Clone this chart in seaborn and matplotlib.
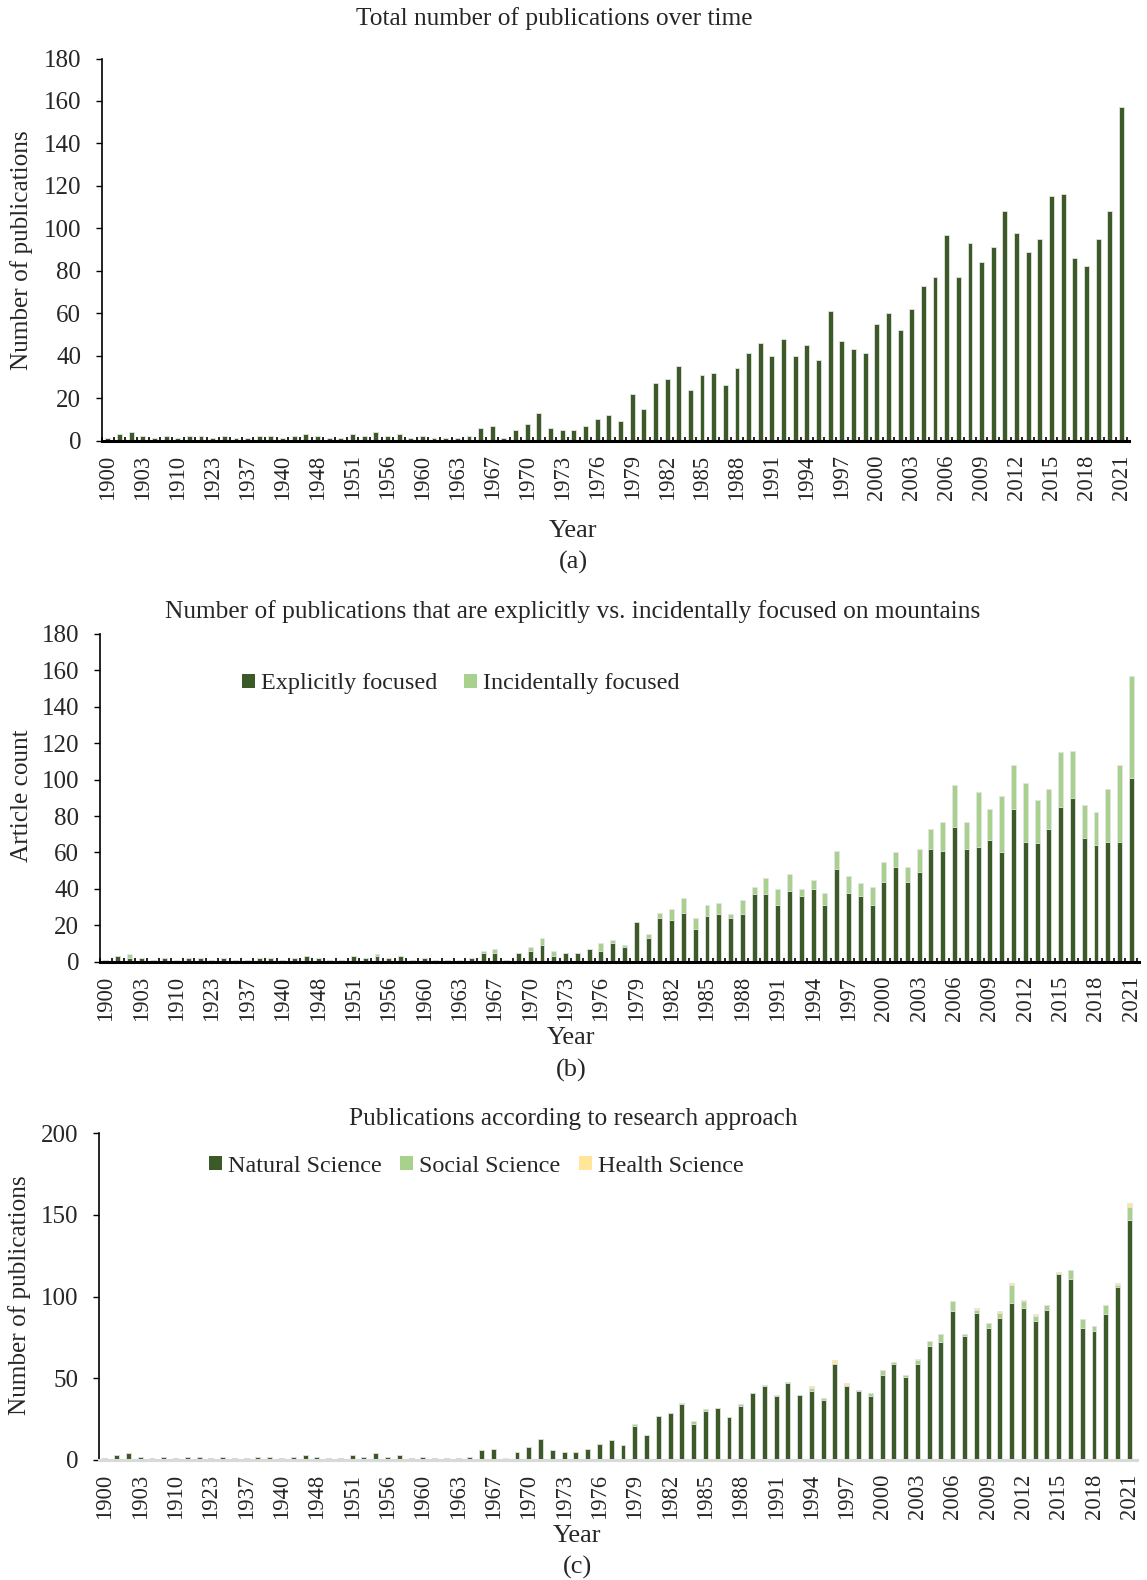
import numpy as np
import matplotlib
matplotlib.use("Agg")
import matplotlib.pyplot as plt
from matplotlib.patches import Patch
import seaborn as sns

sns.set_theme(style="white")
plt.rcParams['font.family'] = ['Liberation Serif', 'DejaVu Serif']

# ---------------- data ----------------
years = ["1900", "1901", "1902", "1903", "1905", "1908", "1910", "1913", "1920", "1923",
         "1926", "1930", "1937", "1938", "1939", "1940", "1943", "1946", "1948", "1949",
         "1950", "1951", "1953", "1955", "1956", "1957", "1959", "1960", "1961", "1962",
         "1963", "1965", "1966", "1967"] + [str(y) for y in range(1968, 2022)]

total = [1, 3, 4, 2, 1, 2, 1, 2, 2, 1, 2, 1, 1, 2, 2, 1, 2, 3, 2, 1,
         1, 3, 2, 4, 2, 3, 1, 2, 1, 1, 1, 2, 6, 7,
         1, 5, 8, 13, 6, 5, 5, 7, 10, 12, 9, 22, 15, 27, 29, 35, 24, 31, 32, 26,
         34, 41, 46, 40, 48, 40, 45, 38, 61, 47, 43, 41, 55, 60, 52, 62, 73, 77, 97, 77,
         93, 84, 91, 108, 98, 89, 95, 115, 116, 86, 82, 95, 108, 157]

explicit = [1, 3, 2, 2, 1, 2, 0, 2, 2, 1, 2, 1, 1, 2, 2, 1, 2, 3, 2, 1,
            1, 3, 2, 3, 2, 3, 1, 2, 1, 1, 0, 2, 5, 5,
            1, 5, 6, 9, 3, 5, 5, 7, 6, 10, 8, 22, 13, 24, 23, 27, 18, 25, 26, 24,
            26, 37, 37, 31, 39, 36, 40, 31, 51, 38, 36, 31, 44, 52, 44, 49, 62, 61, 74, 62,
            63, 67, 60, 84, 66, 65, 73, 85, 90, 68, 64, 66, 66, 101]

incidental = [0, 0, 2, 0, 0, 0, 1, 0, 0, 0, 0, 0, 0, 0, 0, 0, 0, 0, 0, 0,
              0, 0, 0, 1, 0, 0, 0, 0, 0, 0, 1, 0, 1, 2,
              0, 0, 2, 4, 3, 0, 0, 0, 4, 2, 1, 0, 2, 3, 6, 8, 6, 6, 6, 2,
              8, 4, 9, 9, 9, 4, 5, 7, 10, 9, 7, 10, 11, 8, 8, 13, 11, 16, 23, 15,
              30, 17, 31, 24, 32, 24, 22, 30, 26, 18, 18, 29, 42, 56]

natural = [1, 3, 4, 2, 1, 2, 1, 2, 2, 1, 2, 1, 1, 2, 2, 1, 2, 3, 2, 1,
           1, 3, 2, 4, 2, 3, 1, 2, 1, 1, 1, 2, 6, 7,
           0, 5, 8, 13, 6, 5, 5, 7, 10, 12, 9, 21, 15, 27, 29, 34, 22, 30, 32, 26,
           33, 41, 45, 39, 47, 40, 42, 37, 59, 45, 42, 39, 52, 59, 51, 59, 70, 72, 91, 76,
           90, 81, 87, 96, 93, 85, 92, 114, 111, 81, 79, 89, 106, 147]

social = [0, 0, 0, 0, 0, 0, 0, 0, 0, 0, 0, 0, 0, 0, 0, 0, 0, 0, 0, 0,
          0, 0, 0, 0, 0, 0, 0, 0, 0, 0, 0, 0, 0, 0,
          0, 0, 0, 0, 0, 0, 0, 0, 0, 0, 0, 1, 0, 0, 0, 1, 2, 1, 0, 0,
          1, 0, 1, 1, 1, 0, 2, 1, 0, 1, 1, 2, 3, 1, 1, 2, 3, 5, 6, 1,
          2, 3, 3, 11, 4, 3, 3, 0, 5, 5, 3, 6, 1, 8]

health = [0, 0, 0, 0, 0, 0, 0, 0, 0, 0, 0, 0, 0, 0, 0, 0, 0, 0, 0, 0,
          0, 0, 0, 0, 0, 0, 0, 0, 0, 0, 0, 0, 0, 0,
          1, 0, 0, 0, 0, 0, 0, 0, 0, 0, 0, 0, 0, 0, 0, 0, 0, 0, 0, 0,
          0, 0, 0, 0, 0, 0, 1, 0, 2, 1, 0, 0, 0, 0, 0, 1, 0, 0, 0, 0,
          1, 0, 1, 1, 1, 1, 0, 1, 0, 0, 0, 0, 1, 2]

titles = ["Total number of publications over time",
          "Number of publications that are explicitly vs. incidentally focused on mountains",
          "Publications according to research approach"]

# ---------------- style ----------------
DARK = "#3b5a27"
LIGHT = "#a9d18e"
YELLOW = "#ffe699"
EDGE = "#e4e4e4"
FS_YTICK = 18
FS_XTICK = 16.3
FS_TITLE = 18.3
FS_LAB = 18.2
FS_YEAR = 19
FS_LEG = 17.4
BW = 0.42

W, H = 1147, 1580
fig = plt.figure(figsize=(W / 100, H / 100), dpi=100)
fig.patch.set_facecolor("white")


def add_ax(left, right, top, bottom):
    return fig.add_axes([left / W, 1 - bottom / H, (right - left) / W, (bottom - top) / H])


def bars(ax, vals, color):
    sns.barplot(x=years, y=vals, order=years, color=color, saturation=1,
                width=BW, edgecolor=EDGE, linewidth=0.6, errorbar=None, ax=ax)


def style_ax(ax, ymax, ystep, boundary_ticks=True, xcolor="black"):
    n = len(years)
    ax.set_xlim(-0.5, n - 0.35)
    ax.set_ylim(0, ymax)
    ax.set_yticks(np.arange(0, ymax + 1, ystep))
    ax.set_xticks(np.arange(0, n, 3))
    ax.set_xticklabels([years[i] for i in range(0, n, 3)], rotation=90, fontsize=FS_XTICK)
    ax.tick_params(axis="y", which="major", direction="out", length=4, width=1,
                   labelsize=FS_YTICK, pad=11, left=True, color="black")
    ax.tick_params(axis="x", which="major", length=0, pad=10)
    if boundary_ticks:
        ax.set_xticks(np.arange(-0.5, n, 1), minor=True)
        ax.tick_params(axis="x", which="minor", direction="in", length=3.2, width=1.2,
                       bottom=True, color="black")
    ax.set_xlabel("")
    ax.set_ylabel("")
    for s in ["top", "right"]:
        ax.spines[s].set_visible(False)
    ax.spines["left"].set_color("black")
    ax.spines["left"].set_linewidth(1.2)
    ax.spines["bottom"].set_color(xcolor)
    ax.spines["bottom"].set_linewidth(2.2)
    ax.grid(False)
    ax.set_facecolor("white")


# ---------------- panel (a) ----------------
ax1 = add_ax(102, 1129, 58.5, 440.5)
bars(ax1, total, DARK)
style_ax(ax1, 180, 20)
fig.text(554 / W, 1 - 19 / H, titles[0], ha="center", va="center", fontsize=FS_TITLE)
fig.text(22 / W, 1 - 250 / H, "Number of publications", rotation=90, ha="center", va="center", fontsize=FS_LAB)
fig.text(573 / W, 1 - 531 / H, "Year", ha="center", va="center", fontsize=FS_YEAR)
fig.text(573 / W, 1 - 562 / H, "(a)", ha="center", va="center", fontsize=FS_YEAR)

# ---------------- panel (b) ----------------
ax2 = add_ax(100, 1139, 634, 961.7)
bars(ax2, np.array(explicit) + np.array(incidental), LIGHT)
bars(ax2, explicit, DARK)
style_ax(ax2, 180, 20)
fig.text(573 / W, 1 - 612 / H, titles[1], ha="center", va="center", fontsize=FS_TITLE)
fig.text(22 / W, 1 - 796 / H, "Article count", rotation=90, ha="center", va="center", fontsize=FS_LAB)
fig.text(571 / W, 1 - 1038 / H, "Year", ha="center", va="center", fontsize=FS_YEAR)
fig.text(571 / W, 1 - 1070 / H, "(b)", ha="center", va="center", fontsize=FS_YEAR)
h2 = [Patch(facecolor=DARK, edgecolor="none"), Patch(facecolor=LIGHT, edgecolor="none")]
fig.legend(h2, ["Explicitly focused", "Incidentally focused"], loc="center left",
           bbox_to_anchor=(220 / W, 1 - 684 / H), ncol=2, frameon=False, fontsize=FS_LEG,
           handlelength=0.55, handleheight=0.55, handletextpad=0.25, columnspacing=1.1)

# ---------------- panel (c) ----------------
ax3 = add_ax(99, 1137, 1133, 1460)
nat = np.array(natural)
soc = np.array(social)
hea = np.array(health)
bars(ax3, nat + soc + hea, YELLOW)
bars(ax3, nat + soc, LIGHT)
bars(ax3, nat, DARK)
style_ax(ax3, 200, 50, boundary_ticks=False, xcolor="#d9d9d9")
fig.text(573 / W, 1 - 1119 / H, titles[2], ha="center", va="center", fontsize=FS_TITLE)
fig.text(20 / W, 1 - 1295 / H, "Number of publications", rotation=90, ha="center", va="center", fontsize=FS_LAB)
fig.text(577 / W, 1 - 1536 / H, "Year", ha="center", va="center", fontsize=FS_YEAR)
fig.text(577 / W, 1 - 1567 / H, "(c)", ha="center", va="center", fontsize=FS_YEAR)
h3 = [Patch(facecolor=DARK, edgecolor="none"), Patch(facecolor=LIGHT, edgecolor="none"),
      Patch(facecolor=YELLOW, edgecolor="none")]
fig.legend(h3, ["Natural Science", "Social Science", "Health Science"], loc="center left",
           bbox_to_anchor=(187 / W, 1 - 1166 / H), ncol=3, frameon=False, fontsize=FS_LEG,
           handlelength=0.55, handleheight=0.55, handletextpad=0.25, columnspacing=0.75)

fig.savefig("out.png", dpi=100, facecolor="white")
